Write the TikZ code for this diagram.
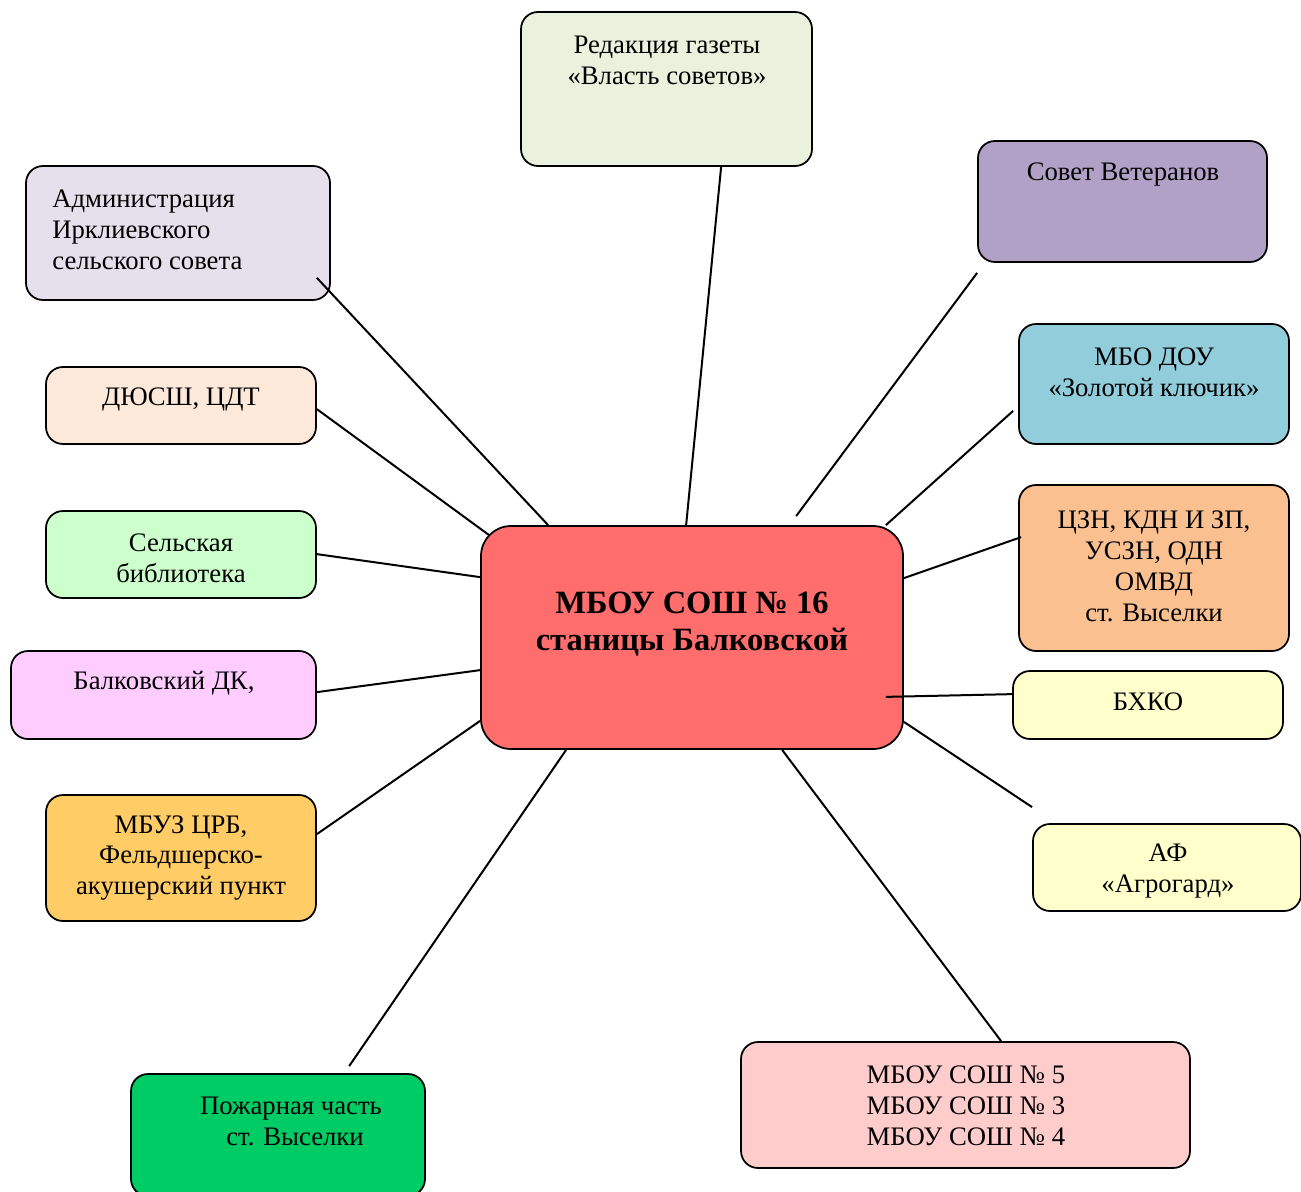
\documentclass[tikz,border=0pt]{standalone}
\usepackage{fontspec}
\setmainfont{Liberation Serif}
\usetikzlibrary{fit,calc}
\definecolor{hubred}{HTML}{FF6D6D}
\definecolor{gazetagreen}{HTML}{EAF1DD}
\definecolor{sovetlilac}{HTML}{B2A1C7}
\definecolor{adminlilac}{HTML}{E5E0EC}
\definecolor{dyusshpeach}{HTML}{FDE9D9}
\definecolor{bibliogreen}{HTML}{CCFFCC}
\definecolor{dkpink}{HTML}{FFCCFF}
\definecolor{mbuzorange}{HTML}{FFCC66}
\definecolor{pozhargreen}{HTML}{00CC66}
\definecolor{shkolypink}{HTML}{FFCCCC}
\definecolor{paleyellow}{HTML}{FFFFCC}
\definecolor{cznorange}{HTML}{FAC090}
\definecolor{doublue}{HTML}{92CDDC}
\begin{document}
\begin{tikzpicture}[x=0.2mm,y=-0.2mm,
        orgbox/.style={draw,line width=0.35mm,rounded corners=3.4mm,inner sep=0pt},
        orgtext/.style={align=center,inner sep=0pt,font=\fontsize{15.2}{17.6}\selectfont},
        link/.style={line width=0.4mm}]
                \useasboundingbox (0,0) rectangle (1301,1191);
                % boxes
                \node[orgbox,fill=hubred,rounded corners=6mm,fit={(481,526) (903,749)}] (hub) {};
                \node[orgbox,fill=gazetagreen,fit={(521,12) (812,166)}] (gazeta) {};
                \node[orgbox,fill=sovetlilac,fit={(978,141) (1267,262)}] (sovet) {};
                \node[orgbox,fill=adminlilac,fit={(26,166) (330,300)}] (admin) {};
                \node[orgbox,fill=dyusshpeach,fit={(46,367) (316,444)}] (dyussh) {};
                \node[orgbox,fill=bibliogreen,fit={(46,511) (316,598)}] (biblio) {};
                \node[orgbox,fill=dkpink,fit={(11,651) (316,739)}] (dk) {};
                \node[orgbox,fill=mbuzorange,fit={(46,795) (316,921)}] (mbuz) {};
                \node[orgbox,fill=pozhargreen,fit={(131,1074) (425,1196)}] (pozhar) {};
                \node[orgbox,fill=shkolypink,fit={(741,1042) (1190,1168)}] (shkoly) {};
                \node[orgbox,fill=paleyellow,fit={(1033,824) (1301,911)}] (agro) {};
                \node[orgbox,fill=paleyellow,fit={(1013,671) (1283,739)}] (bhko) {};
                \node[orgbox,fill=cznorange,fit={(1019,485) (1289,651)}] (czn) {};
                \node[orgbox,fill=doublue,fit={(1019,324) (1289,444)}] (dou) {};
                % texts
                \node[align=center,inner sep=0pt,font=\fontsize{18.5}{21}\selectfont\bfseries] (hubText) at (692,624) {МБОУ СОШ № 16\\станицы Балковской};
                \node[orgtext] (gazetaText) at (667,60) {Редакция газеты\\«Власть советов»};
                \node[orgtext] (sovetText) at (1123,175) {Совет Ветеранов};
                \node[orgtext,align=left,anchor=west] (adminText) at (52,230) {Администрация\\Ирклиевского\\сельского совета};
                \node[orgtext] (dyusshText) at (181,399) {ДЮСШ, ЦДТ};
                \node[orgtext] (biblioText) at (181,558) {Сельская\\библиотека};
                \node[orgtext] (dkText) at (164,683) {Балковский ДК,};
                \node[orgtext] (mbuzText) at (181,858) {МБУЗ ЦРБ,\\Фельдшерско-\\акушерский пункт};
                \node[orgtext] (pozharText) at (291,1121) {Пожарная часть\\ \hspace{0.3em}ст. Выселки};
                \node[orgtext] (shkolyText) at (966,1106) {МБОУ СОШ № 5\\МБОУ СОШ № 3\\МБОУ СОШ № 4};
                \node[orgtext] (agroText) at (1168,871) {АФ\\«Агрогард»};
                \node[orgtext] (bhkoText) at (1148,702) {БХКО};
                \node[orgtext] (cznText) at (1154,566) {ЦЗН, КДН И ЗП,\\УСЗН, ОДН\\ОМВД\\ст. Выселки};
                \node[orgtext] (douText) at (1154,372) {МБО ДОУ\\«Золотой ключик»};
                % links
                \draw[link] ($(hub.north west)+(68,0)$) -- ($(admin.south east)+(-14,-23)$);
                \draw[link] ($(hub.north west)+(206,0)$) -- ($(gazeta.south west)+(201,0)$);
                \draw[link] ($(hub.north west)+(316,-9)$) -- ($(sovet.south west)+(0,10)$);
                \draw[link] ($(hub.north east)+(-18,0)$) -- ($(dou.south west)+(-5,-34)$);
                \draw[link] ($(hub.north east)+(0,53)$) -- ($(czn.north west)+(3,53)$);
                \draw[link] ($(hub.south east)+(-18,-53)$) -- ($(bhko.north west)+(0,24)$);
                \draw[link] ($(hub.south east)+(0,-28)$) -- ($(agro.north west)+(0,-16)$);
                \draw[link] ($(hub.south west)+(302,0)$) -- ($(shkoly.north west)+(261,0)$);
                \draw[link] ($(hub.south west)+(86,0)$) -- ($(pozhar.north west)+(219,-7)$);
                \draw[link] ($(hub.south west)+(0,-29)$) -- ($(mbuz.north east)+(0,40)$);
                \draw[link] ($(hub.north west)+(0,145)$) -- ($(dk.north east)+(0,42)$);
                \draw[link] ($(hub.north west)+(0,52)$) -- ($(biblio.north east)+(0,44)$);
                \draw[link] ($(hub.north west)+(9,10)$) -- ($(dyussh.north east)+(0,43)$);
            \end{tikzpicture}
\end{document}
